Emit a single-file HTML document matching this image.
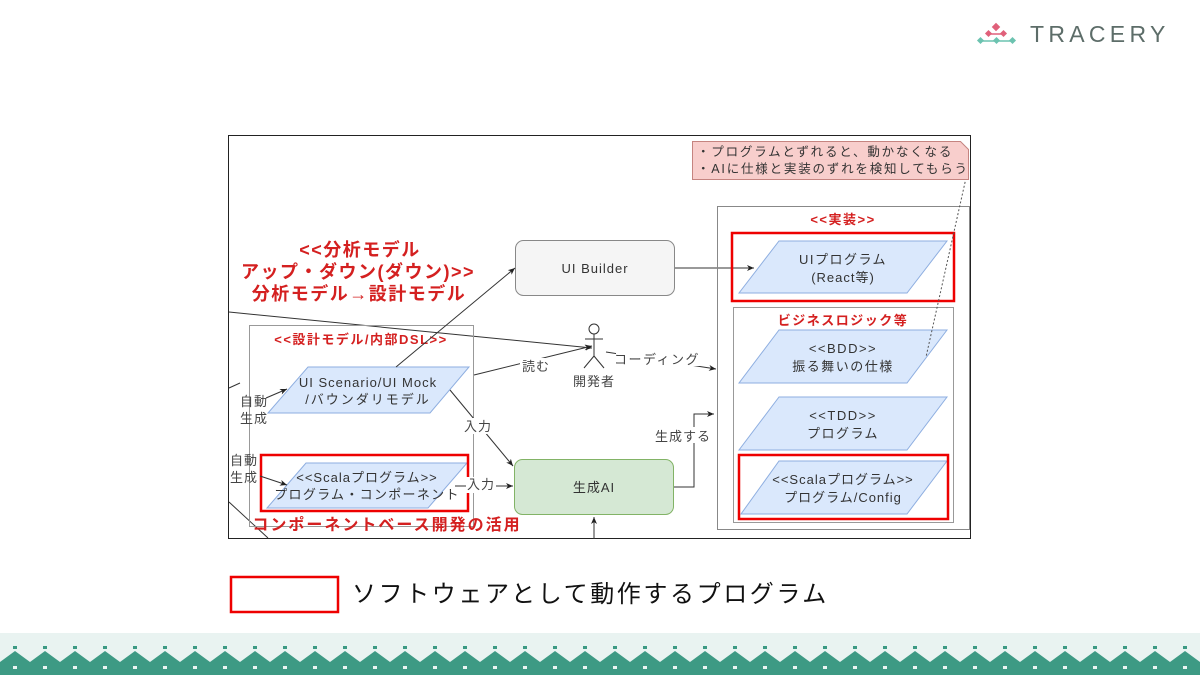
<!DOCTYPE html>
<html><head><meta charset="utf-8"><style>
html,body{margin:0;padding:0;background:#fff;}
body{width:1200px;height:675px;position:relative;overflow:hidden;font-family:"Liberation Sans","Noto Sans CJK JP",sans-serif;}
svg text{font-family:"Liberation Sans","Noto Sans CJK JP",sans-serif;}
.d text{letter-spacing:1px;}
</style></head><body>
<svg width="1200" height="675" viewBox="0 0 1200 675" xmlns="http://www.w3.org/2000/svg">
<defs>
<marker id="ar" markerWidth="8" markerHeight="8" refX="7" refY="4" orient="auto" markerUnits="userSpaceOnUse"><path d="M0,1 L7,4 L0,7 L2,4 Z" fill="#222"/></marker>
<pattern id="zig" x="0" y="640" width="30" height="35" patternUnits="userSpaceOnUse">
<rect x="0" y="0" width="30" height="35" fill="#e9f3f1"/>
<path d="M0,22 L15,11 L30,22 L30,35 L0,35 Z" fill="#3d9a84"/>
<rect x="13" y="6" width="4" height="3" fill="#3d9a84"/>
<rect x="13" y="26" width="4" height="3" fill="#e9f3f1"/>
</pattern>
</defs>
<!-- logo -->
<g>
<rect x="993" y="24" width="6" height="6" fill="#e0607a" transform="rotate(45 996 27)"/>
<rect x="986" y="31" width="5" height="5" fill="#e0607a" transform="rotate(45 988.5 33.5)"/>
<rect x="1001" y="31" width="5" height="5" fill="#e0607a" transform="rotate(45 1003.5 33.5)"/>
<line x1="988" y1="34" x2="1004" y2="34" stroke="#e0607a" stroke-width="1.5"/>
<rect x="978" y="38" width="5" height="5" fill="#6cc3b0" transform="rotate(45 980.5 40.5)"/>
<rect x="994" y="38" width="5" height="5" fill="#6cc3b0" transform="rotate(45 996.5 40.5)"/>
<rect x="1010" y="38" width="5" height="5" fill="#6cc3b0" transform="rotate(45 1012.5 40.5)"/>
<line x1="980" y1="41" x2="1013" y2="41" stroke="#6cc3b0" stroke-width="1.5"/>
<text x="1030" y="42" font-size="23" fill="#5d6d69" letter-spacing="4.3">TRACERY</text>
</g>
<g class="d">
<!-- frame -->
<rect x="228.5" y="135.5" width="742" height="403" fill="#fff" stroke="#222" stroke-width="1"/>
<line x1="229" y1="312" x2="592" y2="348" stroke="#333" marker-end="url(#ar)"/>
<line x1="229" y1="388" x2="240" y2="383" stroke="#333"/>
<line x1="229" y1="502" x2="268" y2="538" stroke="#333"/>
<rect x="249.5" y="325.5" width="224" height="201" fill="none" stroke="#999"/>
<text x="361" y="344" font-size="13" font-weight="bold" fill="#d42020" text-anchor="middle" style="letter-spacing:1.5px">&lt;&lt;設計モデル/内部DSL&gt;&gt;</text>
<text x="360" y="256" font-size="18" font-weight="bold" fill="#d42020" text-anchor="middle" style="letter-spacing:1.5px">&lt;&lt;分析モデル</text>
<text x="358" y="278" font-size="18" font-weight="bold" fill="#d42020" text-anchor="middle" style="letter-spacing:1.5px">アップ・ダウン(ダウン)&gt;&gt;</text>
<text x="359" y="300" font-size="18" font-weight="bold" fill="#d42020" text-anchor="middle" style="letter-spacing:1.5px">分析モデル→設計モデル</text>
<rect x="515.5" y="240.5" width="159" height="55" rx="8" fill="#f5f5f5" stroke="#888"/>
<text x="595" y="273" font-size="13" fill="#333" text-anchor="middle">UI Builder</text>
<rect x="514.5" y="459.5" width="159" height="55" rx="8" fill="#d5e8d4" stroke="#82b366"/>
<text x="594" y="492" font-size="13" fill="#333" text-anchor="middle">生成AI</text>
<line x1="594" y1="539" x2="594" y2="517" stroke="#333" marker-end="url(#ar)"/>
<polygon points="308,367 469,367 430,413 268,413" fill="#dae8fc" stroke="#8eaee0"/>
<text x="368" y="387" font-size="13" fill="#333" text-anchor="middle">UI Scenario/UI Mock</text>
<text x="368" y="404" font-size="13" fill="#333" text-anchor="middle" style="letter-spacing:2px">/バウンダリモデル</text>
<polygon points="306,463 467,463 428,508 267,508" fill="#dae8fc" stroke="#8eaee0"/>
<text x="367" y="482" font-size="13" fill="#333" text-anchor="middle">&lt;&lt;Scalaプログラム&gt;&gt;</text>
<text x="367" y="499" font-size="13" fill="#333" text-anchor="middle" style="letter-spacing:1.3px">プログラム・コンポーネント</text>
<rect x="261" y="455" width="207" height="56" fill="none" stroke="#ee0000" stroke-width="2.5"/>
<text x="387" y="530" font-size="16" font-weight="bold" fill="#d42020" text-anchor="middle" style="letter-spacing:2px">コンポーネントベース開発の活用</text>
<text x="254" y="406" font-size="13" fill="#444" text-anchor="middle">自動</text>
<text x="254" y="423" font-size="13" fill="#444" text-anchor="middle">生成</text>
<line x1="266" y1="398" x2="287" y2="389" stroke="#333" marker-end="url(#ar)"/>
<text x="244" y="465" font-size="13" fill="#444" text-anchor="middle">自動</text>
<text x="244" y="482" font-size="13" fill="#444" text-anchor="middle">生成</text>
<line x1="260" y1="476" x2="287" y2="485" stroke="#333" marker-end="url(#ar)"/>
<line x1="396" y1="367" x2="515" y2="268" stroke="#333" marker-end="url(#ar)"/>
<line x1="474" y1="375" x2="592" y2="346" stroke="#333" marker-end="url(#ar)"/>
<rect x="520" y="358" width="32" height="16" fill="#fff"/>
<text x="536" y="371" font-size="13" fill="#444" text-anchor="middle">読む</text>
<line x1="450" y1="390" x2="513" y2="466" stroke="#333" marker-end="url(#ar)"/>
<rect x="462" y="418" width="32" height="16" fill="#fff"/>
<text x="478" y="431" font-size="13" fill="#444" text-anchor="middle">入力</text>
<line x1="455" y1="486" x2="513" y2="486" stroke="#333" marker-end="url(#ar)"/>
<rect x="466" y="477" width="30" height="16" fill="#fff"/>
<text x="481" y="489" font-size="13" fill="#444" text-anchor="middle">入力</text>
<polyline points="674,487 694,487 694,414 714,414" fill="none" stroke="#333" marker-end="url(#ar)"/>
<rect x="652" y="427" width="62" height="16" fill="#fff"/>
<text x="683" y="441" font-size="13" fill="#444" text-anchor="middle">生成する</text>
<polyline points="675,268 754,268" fill="none" stroke="#333" marker-end="url(#ar)"/>
<line x1="606" y1="352" x2="716" y2="369" stroke="#333" marker-end="url(#ar)"/>
<rect x="616" y="350" width="84" height="16" fill="#fff"/>
<text x="657" y="364" font-size="13" fill="#444" text-anchor="middle" style="letter-spacing:1.5px">コーディング</text>
<g stroke="#333" fill="#fff" stroke-width="1">
<circle cx="594" cy="329" r="5"/>
<line x1="594" y1="334" x2="594" y2="356"/>
<line x1="585" y1="339" x2="603" y2="339"/>
<line x1="594" y1="356" x2="584" y2="368"/>
<line x1="594" y1="356" x2="604" y2="368"/>
</g>
<text x="594" y="386" font-size="13" fill="#444" text-anchor="middle">開発者</text>
<rect x="717.5" y="206.5" width="252" height="323" fill="none" stroke="#888"/>
<text x="843" y="224" font-size="13" font-weight="bold" fill="#d42020" text-anchor="middle" style="letter-spacing:1.5px">&lt;&lt;実装&gt;&gt;</text>
<polygon points="779,241 947,241 907,293 739,293" fill="#dae8fc" stroke="#8eaee0"/>
<text x="843" y="264" font-size="13" fill="#333" text-anchor="middle" style="letter-spacing:1.5px">UIプログラム</text>
<text x="843" y="282" font-size="13" fill="#333" text-anchor="middle">(React等)</text>
<rect x="732" y="233" width="222" height="68" fill="none" stroke="#ee0000" stroke-width="2.5"/>
<rect x="733.5" y="307.5" width="220" height="215" fill="none" stroke="#999"/>
<text x="843" y="325" font-size="13" font-weight="bold" fill="#d42020" text-anchor="middle" style="letter-spacing:1.5px">ビジネスロジック等</text>
<polygon points="779,330 947,330 907,383 739,383" fill="#dae8fc" stroke="#8eaee0"/>
<text x="843" y="353" font-size="13" fill="#333" text-anchor="middle" style="letter-spacing:1.5px">&lt;&lt;BDD&gt;&gt;</text>
<text x="843" y="371" font-size="13" fill="#333" text-anchor="middle" style="letter-spacing:1.5px">振る舞いの仕様</text>
<polygon points="779,397 947,397 907,450 739,450" fill="#dae8fc" stroke="#8eaee0"/>
<text x="843" y="420" font-size="13" fill="#333" text-anchor="middle" style="letter-spacing:1.5px">&lt;&lt;TDD&gt;&gt;</text>
<text x="843" y="438" font-size="13" fill="#333" text-anchor="middle" style="letter-spacing:1.5px">プログラム</text>
<polygon points="779,461 947,461 907,514 741,514" fill="#dae8fc" stroke="#8eaee0"/>
<text x="843" y="484" font-size="13" fill="#333" text-anchor="middle">&lt;&lt;Scalaプログラム&gt;&gt;</text>
<text x="843" y="502" font-size="13" fill="#333" text-anchor="middle">プログラム/Config</text>
<rect x="739" y="455" width="209" height="64" fill="none" stroke="#ee0000" stroke-width="2.5"/>
<line x1="966" y1="178" x2="926" y2="357" stroke="#555" stroke-dasharray="2,2"/>
<path d="M692.5,141.5 L960.5,141.5 L968.5,149.5 L968.5,179.5 L692.5,179.5 Z" fill="#f8cecc" stroke="#c58480"/>
<text x="697" y="156" font-size="12.5" fill="#333" style="letter-spacing:1.8px">・プログラムとずれると、動かなくなる</text>
<text x="697" y="173" font-size="12.5" fill="#333" style="letter-spacing:1.8px">・AIに仕様と実装のずれを検知してもらう</text>
</g>
<rect x="231" y="577" width="107" height="35" fill="none" stroke="#ee0000" stroke-width="2.5"/>
<text x="352" y="602" font-size="24" fill="#111" style="letter-spacing:2.6px">ソフトウェアとして動作するプログラム</text>
<rect x="0" y="633" width="1200" height="42" fill="#e9f3f1"/>
<rect x="0" y="640" width="1200" height="35" fill="url(#zig)"/>
</svg>
</body></html>
